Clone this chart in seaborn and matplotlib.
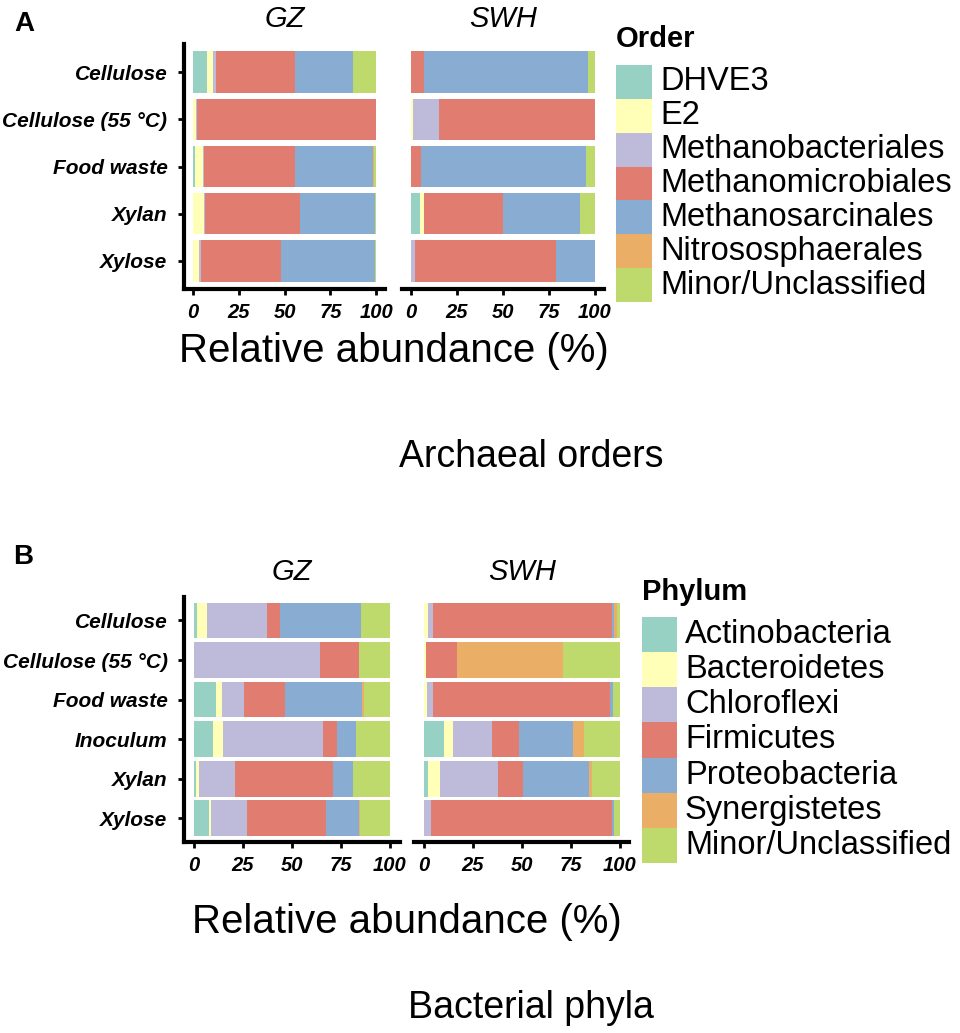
import numpy as np
import pandas as pd
import seaborn as sns
import matplotlib.pyplot as plt
from matplotlib.patches import Rectangle

# ---- data (relative abundance, %) ----
archaea_samples = ['Cellulose', 'Cellulose (55 °C)', 'Food waste', 'Xylan', 'Xylose']
archaea_taxa = ['DHVE3', 'E2', 'Methanobacteriales', 'Methanomicrobiales',
                'Methanosarcinales', 'Nitrososphaerales', 'Minor/Unclassified']

# rows = samples, columns = taxa
gz_archaea = [
    [7.3, 3.6, 1.3, 43.3, 31.8, 0.3, 12.4],
    [0.0, 1.5, 0.3, 98.2, 0.0, 0.0, 0.0],
    [0.9, 4.2, 0.9, 49.5, 42.7, 0.5, 1.3],
    [0.0, 5.8, 0.5, 52.3, 40.8, 0.0, 0.6],
    [0.0, 3.3, 0.7, 43.8, 51.7, 0.0, 0.5],
]
swh_archaea = [
    [0.0, 0.0, 0.0, 7.1, 89.3, 0.0, 3.6],
    [0.0, 0.9, 14.6, 84.5, 0.0, 0.0, 0.0],
    [0.0, 0.0, 0.0, 5.4, 90.1, 0.0, 4.5],
    [4.9, 2.4, 0.0, 42.6, 42.0, 0.0, 8.1],
    [0.0, 0.0, 2.2, 77.0, 20.8, 0.0, 0.0],
]

bacteria_samples = ['Cellulose', 'Cellulose (55 °C)', 'Food waste', 'Inoculum', 'Xylan', 'Xylose']
bacteria_taxa = ['Actinobacteria', 'Bacteroidetes', 'Chloroflexi', 'Firmicutes',
                 'Proteobacteria', 'Synergistetes', 'Minor/Unclassified']

gz_bacteria = [
    [1.4, 5.1, 30.6, 7.1, 41.0, 0.0, 14.8],
    [0.0, 0.0, 64.6, 19.6, 0.0, 0.0, 15.8],
    [11.2, 3.1, 11.4, 20.7, 39.6, 0.7, 13.3],
    [9.5, 5.1, 51.4, 7.1, 9.9, 0.0, 17.0],
    [1.0, 1.4, 18.5, 50.2, 10.2, 0.0, 18.7],
    [7.5, 1.0, 18.4, 40.3, 17.0, 0.5, 15.3],
]
swh_bacteria = [
    [0.0, 2.0, 2.7, 91.3, 1.4, 1.2, 1.4],
    [0.0, 1.0, 0.0, 15.7, 0.0, 54.6, 28.7],
    [0.0, 1.7, 3.1, 90.1, 2.0, 0.0, 3.1],
    [10.2, 4.4, 20.0, 14.2, 27.3, 5.8, 18.1],
    [2.0, 6.1, 29.9, 12.5, 34.0, 1.2, 14.3],
    [0.0, 0.0, 3.4, 93.0, 0.9, 0.0, 2.7],
]

x_ticks = [0, 25, 50, 75, 100]
palette = ['#96D1C3', '#FFFFB8', '#BEBADA', '#E17C70', '#89ACD2', '#EAAE67', '#BEDA6C']

sns.set_style('ticks')
plt.rcParams['font.family'] = ['Liberation Sans', 'DejaVu Sans']
for key in ['text.color', 'axes.labelcolor', 'xtick.color', 'ytick.color', 'axes.edgecolor']:
    plt.rcParams[key] = 'black'

W, H = 960, 1033
fig = plt.figure(figsize=(W / 100, H / 100), dpi=100)


def box(x0, x1, y0, y1):
    # pixel box -> figure fraction
    return [x0 / W, 1 - y1 / H, (x1 - x0) / W, (y1 - y0) / H]


def stacked(ax, values, samples, taxa, title, show_y, bar_w):
    df = pd.DataFrame(values, index=samples, columns=taxa)
    cum = df.cumsum(axis=1)
    # draw longest cumulative bar first, shorter ones on top
    for k in range(len(taxa) - 1, -1, -1):
        sns.barplot(x=cum.iloc[:, k].values, y=samples, order=samples, orient='h',
                    color=palette[k], saturation=1, width=bar_w, errorbar=None,
                    linewidth=0, ax=ax)
    n = len(samples)
    ax.set_xlim(-5, 105)
    ax.set_ylim(n - 1 + 0.6, -0.6)
    ax.set_xticks(x_ticks)
    ax.set_xticklabels([str(t) for t in x_ticks], fontsize=14.5,
                       fontweight='bold', fontstyle='italic')
    ax.set_xlabel('')
    ax.set_ylabel('')
    for s in ['top', 'right']:
        ax.spines[s].set_visible(False)
    ax.spines['bottom'].set_linewidth(3)
    ax.spines['left'].set_linewidth(3)
    ax.tick_params(axis='x', width=2, length=4, pad=6)
    if show_y:
        ax.tick_params(axis='y', width=2, length=4, pad=8)
        for lab in ax.get_yticklabels():
            lab.set_fontsize(15)
            lab.set_fontweight('bold')
            lab.set_fontstyle('italic')
    else:
        ax.spines['left'].set_visible(False)
        ax.tick_params(axis='y', left=False, labelleft=False)
    ax.text(0.5, 1.1, title, transform=ax.transAxes, ha='center', va='center',
            fontsize=21, fontstyle='italic')


def legend(title, taxa, x0, y_title, y0, y1, key_w):
    fig.text(x0 / W, 1 - y_title / H, title, fontsize=21, fontweight='bold',
             ha='left', va='baseline')
    row = (y1 - y0) / len(taxa)
    for i, t in enumerate(taxa):
        top = y0 + i * row
        fig.patches.append(Rectangle((x0 / W, 1 - (top + row) / H), key_w / W, row / H,
                                     transform=fig.transFigure, facecolor=palette[i],
                                     edgecolor='none'))
        fig.text((x0 + key_w + 8) / W, 1 - (top + row / 2) / H, t, fontsize=23.5,
                 ha='left', va='center')


# ---- panel A ----
axA1 = fig.add_axes(box(184.1, 385.2, 43.9, 289.1))
axA2 = fig.add_axes(box(401.8, 603.8, 43.9, 289.1))
stacked(axA1, gz_archaea, archaea_samples, archaea_taxa, 'GZ', True, 0.88)
stacked(axA2, swh_archaea, archaea_samples, archaea_taxa, 'SWH', False, 0.88)
legend('Order', archaea_taxa, 616, 47, 65, 302, 36)
fig.text(394 / W, 1 - 361.7 / H, 'Relative abundance (%)', fontsize=29,
         ha='center', va='baseline')
fig.text(531 / W, 1 - 467 / H, 'Archaeal orders', fontsize=27,
         ha='center', va='baseline')
fig.text(24 / W, 1 - 24 / H, 'A', fontsize=20, fontweight='bold', ha='center', va='center')

# ---- panel B ----
axB1 = fig.add_axes(box(184.2, 399.5, 596.7, 842))
axB2 = fig.add_axes(box(414.2, 629.3, 596.7, 842))
stacked(axB1, gz_bacteria, bacteria_samples, bacteria_taxa, 'GZ', True, 0.9)
stacked(axB2, swh_bacteria, bacteria_samples, bacteria_taxa, 'SWH', False, 0.9)
legend('Phylum', bacteria_taxa, 642, 600, 617, 863, 35)
fig.text(407 / W, 1 - 933 / H, 'Relative abundance (%)', fontsize=29,
         ha='center', va='baseline')
fig.text(531 / W, 1 - 1018 / H, 'Bacterial phyla', fontsize=27,
         ha='center', va='baseline')
fig.text(23 / W, 1 - 557 / H, 'B', fontsize=20, fontweight='bold', ha='center', va='center')

fig.savefig('out.png', dpi=100)
